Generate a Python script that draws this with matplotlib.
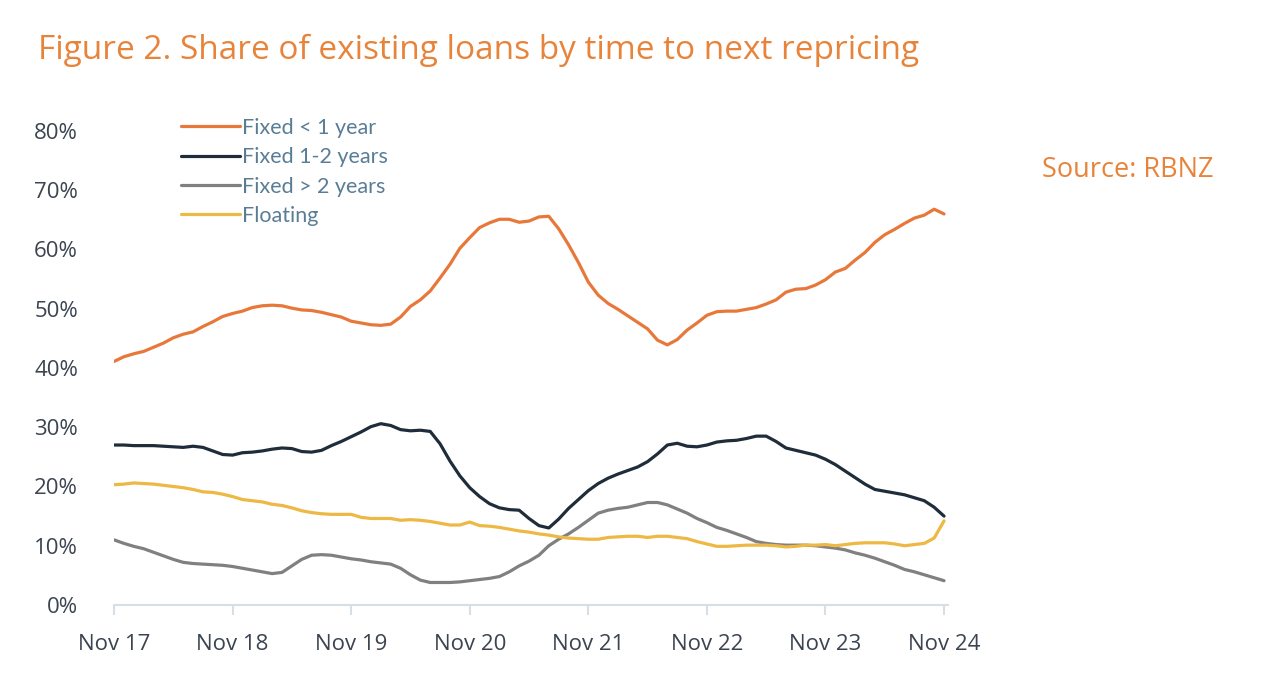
import matplotlib
matplotlib.use("Agg")
import matplotlib.pyplot as plt
import numpy as np

tick_labels = ["Nov 17", "Nov 18", "Nov 19", "Nov 20", "Nov 21", "Nov 22", "Nov 23", "Nov 24"]

fixed_lt1 = [41.1, 41.9, 42.4, 42.8, 43.5, 44.2, 45.1, 45.7, 46.1, 47.0, 47.8, 48.7,
             49.2, 49.6, 50.2, 50.5, 50.6, 50.5, 50.1, 49.8, 49.7, 49.4, 49.0, 48.6,
             47.9, 47.6, 47.3, 47.2, 47.4, 48.6, 50.4, 51.5, 53.0, 55.2, 57.5, 60.2,
             62.0, 63.7, 64.5, 65.1, 65.1, 64.6, 64.8, 65.5, 65.6, 63.5, 60.8, 57.8,
             54.5, 52.3, 50.9, 49.9, 48.8, 47.7, 46.6, 44.7, 43.9, 44.8, 46.4, 47.6,
             48.9, 49.5, 49.6, 49.6, 49.9, 50.2, 50.8, 51.5, 52.8, 53.3, 53.4, 54.0,
             54.9, 56.2, 56.8, 58.2, 59.5, 61.2, 62.5, 63.4, 64.4, 65.3, 65.8, 66.8,
             66.0]

fixed_1_2 = [27.0, 27.0, 26.9, 26.9, 26.9, 26.8, 26.7, 26.6, 26.8, 26.6, 26.0, 25.4,
             25.3, 25.7, 25.8, 26.0, 26.3, 26.5, 26.4, 25.9, 25.8, 26.1, 26.9, 27.6,
             28.4, 29.2, 30.1, 30.6, 30.3, 29.6, 29.4, 29.5, 29.3, 27.2, 24.3, 21.8,
             19.8, 18.3, 17.1, 16.4, 16.1, 16.0, 14.6, 13.4, 13.0, 14.5, 16.3, 17.8,
             19.3, 20.5, 21.4, 22.1, 22.7, 23.3, 24.2, 25.5, 27.0, 27.3, 26.8, 26.7,
             27.0, 27.5, 27.7, 27.8, 28.1, 28.5, 28.5, 27.6, 26.5, 26.1, 25.7, 25.3,
             24.6, 23.7, 22.6, 21.5, 20.4, 19.5, 19.2, 18.9, 18.6, 18.1, 17.6, 16.5,
             15.0]

fixed_gt2 = [11.0, 10.4, 9.9, 9.5, 8.9, 8.3, 7.7, 7.2, 7.0, 6.9, 6.8, 6.7,
             6.5, 6.2, 5.9, 5.6, 5.3, 5.5, 6.6, 7.7, 8.4, 8.5, 8.4, 8.1,
             7.8, 7.6, 7.3, 7.1, 6.9, 6.2, 5.1, 4.2, 3.8, 3.8, 3.8, 3.9,
             4.1, 4.3, 4.5, 4.8, 5.6, 6.6, 7.4, 8.4, 10.0, 11.1, 12.0, 13.1,
             14.3, 15.5, 16.0, 16.3, 16.5, 16.9, 17.3, 17.3, 16.9, 16.2, 15.5, 14.6,
             13.9, 13.1, 12.6, 12.0, 11.4, 10.7, 10.4, 10.2, 10.1, 10.1, 10.1, 10.0,
             9.8, 9.6, 9.3, 8.8, 8.4, 7.9, 7.3, 6.7, 6.0, 5.6, 5.1, 4.6,
             4.1]

floating = [20.3, 20.4, 20.6, 20.5, 20.4, 20.2, 20.0, 19.8, 19.5, 19.1, 19.0, 18.7,
            18.3, 17.8, 17.6, 17.4, 17.0, 16.8, 16.4, 15.9, 15.6, 15.4, 15.3, 15.3,
            15.3, 14.8, 14.6, 14.6, 14.6, 14.3, 14.4, 14.3, 14.1, 13.8, 13.5, 13.5,
            14.0, 13.4, 13.3, 13.1, 12.8, 12.5, 12.3, 12.0, 11.8, 11.5, 11.3, 11.2,
            11.1, 11.1, 11.4, 11.5, 11.6, 11.6, 11.4, 11.6, 11.6, 11.4, 11.2, 10.7,
            10.3, 9.9, 9.9, 10.0, 10.1, 10.1, 10.1, 10.0, 9.8, 9.9, 10.1, 10.1,
            10.2, 10.0, 10.2, 10.4, 10.5, 10.5, 10.5, 10.3, 10.0, 10.2, 10.4, 11.3,
            14.2]

series = [
    ("Fixed < 1 year", fixed_lt1, "#E8783A"),
    ("Fixed 1-2 years", fixed_1_2, "#1F2D3A"),
    ("Fixed > 2 years", fixed_gt2, "#808080"),
    ("Floating", floating, "#EDB843"),
]

W, H = 1270, 684
fig = plt.figure(figsize=(W / 100, H / 100), dpi=100)
left, right, bottom, top = 114, 948, 605, 131
ax = fig.add_axes([left / W, (H - bottom) / H, (right - left) / W, (bottom - top) / H])

x = np.arange(len(fixed_lt1))
handles = []
for name, vals, col in series:
    h, = ax.plot(x, vals, color=col, lw=2.3, label=name, solid_capstyle="round")
    handles.append(h)

ax.set_xlim(0, 84.4)
ax.set_ylim(0, 80)
ax.set_yticks(np.arange(0, 81, 10))
ax.set_yticklabels([f"{v}%" for v in range(0, 81, 10)])
ax.set_xticks(np.arange(0, 85, 12))
ax.set_xticklabels(tick_labels)

for s in ["top", "right", "left"]:
    ax.spines[s].set_visible(False)
ax.spines["bottom"].set_color("#D5DFE8")
ax.spines["bottom"].set_linewidth(1.5)
ax.tick_params(axis="y", length=0, pad=26, labelsize=16, labelcolor="#3B4450")
ax.tick_params(axis="x", length=7, width=1.5, color="#D5DFE8", pad=14,
               labelsize=16, labelcolor="#3B4450")
for lab in ax.get_xticklabels() + ax.get_yticklabels():
    lab.set_family("Open Sans")

leg = fig.legend(handles=handles, loc="upper left",
                 bbox_to_anchor=(181 / W, (H - 118) / H),
                 frameon=False, handlelength=2.75, handletextpad=0.1,
                 labelspacing=0.43, borderpad=0, borderaxespad=0,
                 prop={"family": "Lato", "size": 15.5}, labelcolor="#5A7D96")

fig.text(38 / W, (H - 50) / H, "Figure 2. Share of existing loans by time to next repricing",
         color="#E8833A", fontsize=24, family="Open Sans", va="center", ha="left")
fig.text(1042 / W, (H - 170) / H, "Source: RBNZ", color="#E8833A", fontsize=19.5,
         family="Open Sans", va="center", ha="left")

fig.savefig("out.png", dpi=100)
